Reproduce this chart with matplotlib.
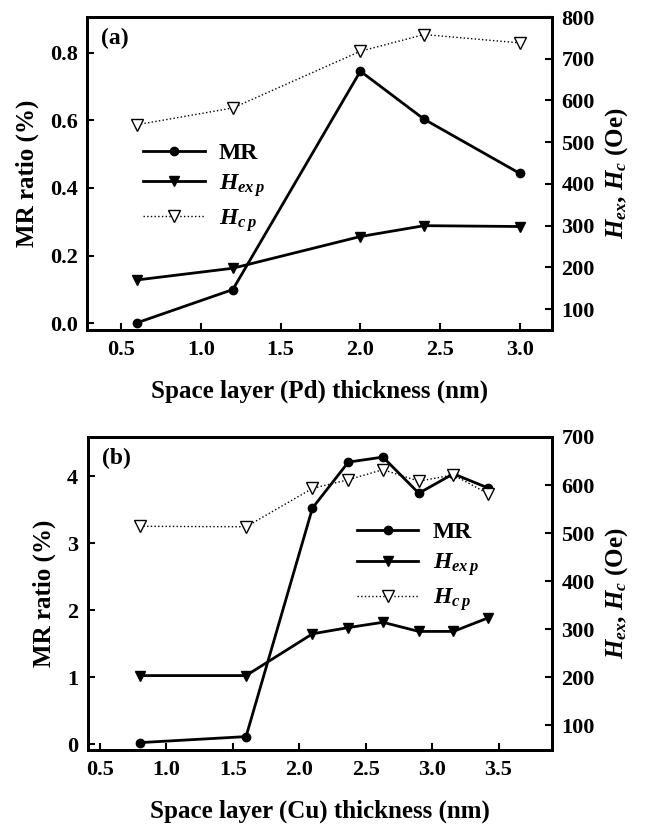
import numpy as np
import matplotlib
matplotlib.use('Agg')
import matplotlib.pyplot as plt

plt.rcParams['font.family'] = 'Liberation Serif'
plt.rcParams['font.weight'] = 'bold'
plt.rcParams['mathtext.fontset'] = 'custom'
plt.rcParams['mathtext.rm'] = 'Liberation Serif:bold'
plt.rcParams['mathtext.it'] = 'Liberation Serif:italic:bold'
plt.rcParams['mathtext.bf'] = 'Liberation Serif:bold'

# panel (a): Pd spacer
pd_thick = [0.6, 1.2, 2.0, 2.4, 3.0]
pd_mr = [0.002, 0.10, 0.745, 0.603, 0.443]
pd_hex = [170, 198, 274, 300, 298]
pd_hc = [542, 582, 718, 758, 738]

# panel (b): Cu spacer
cu_thick = [0.8, 1.6, 2.1, 2.37, 2.63, 2.9, 3.16, 3.42]
cu_mr = [0.025, 0.115, 3.53, 4.215, 4.29, 3.75, 4.04, 3.83]
cu_hex = [203, 203, 290, 303, 314, 295, 295, 323]
cu_hc = [514, 513, 593, 611, 632, 608, 621, 582]

fig = plt.figure(figsize=(6.56, 8.3), dpi=100)


def style(ax):
    for s in ax.spines.values():
        s.set_linewidth(2)
    ax.tick_params(direction='in', width=1.5, length=5, labelsize=16, pad=7)
    for lab in ax.get_xticklabels() + ax.get_yticklabels():
        lab.set_fontweight('bold')


def panel(rect, x, mr, hex_, hc, xlim, ylim, yticks, yfmt, rlim, rticks,
          xticks, xlabel, tag, leg_anchor):
    ax = fig.add_axes(rect)
    ax2 = ax.twinx()
    l1, = ax.plot(x, mr, '-', color='black', lw=2, marker='o', ms=6, label='MR')
    l2, = ax2.plot(x, hex_, '-', color='black', lw=2, marker='v', ms=7,
                   label=r'$H_{ex\,p}$')
    l3, = ax2.plot(x, hc, ':', color='black', lw=1.0, marker='v', ms=8,
                   mfc='white', mec='black', label=r'$H_{c\,p}$')
    ax.set_xlim(xlim)
    ax.set_ylim(ylim)
    ax.set_xticks(xticks)
    ax.set_xticklabels(['%.1f' % t for t in xticks])
    ax.set_yticks(yticks)
    ax.set_yticklabels([yfmt % t for t in yticks])
    ax2.set_ylim(rlim)
    ax2.set_yticks(rticks)
    ax.set_xlabel(xlabel, fontsize=18, fontweight='bold', labelpad=14)
    ax.set_ylabel('MR ratio (%)', fontsize=18, fontweight='bold', labelpad=8)
    ax2.set_ylabel(r'$H_{ex}$, $H_c$ (Oe)', fontsize=18, fontweight='bold',
                   labelpad=6)
    style(ax)
    style(ax2)
    ax.text(0.03, 0.965, tag, transform=ax.transAxes, fontsize=17,
            fontweight='bold', va='top', ha='left')
    ax.legend(handles=[l1, l2, l3], loc='upper left', bbox_to_anchor=leg_anchor,
              frameon=False, fontsize=17, handlelength=2.6, handletextpad=0.6,
              labelspacing=0.35, borderaxespad=0)
    return ax, ax2


panel([0.133, 0.6024, 0.708, 0.3771], pd_thick, pd_mr, pd_hex, pd_hc,
      (0.287, 3.20), (-0.0195, 0.905), [0.0, 0.2, 0.4, 0.6, 0.8], '%.1f',
      (50, 800), [100, 200, 300, 400, 500, 600, 700, 800],
      [0.5, 1.0, 1.5, 2.0, 2.5, 3.0], 'Space layer (Pd) thickness (nm)', '(a)',
      (0.10, 0.63))

panel([0.134, 0.0964, 0.707, 0.3771], cu_thick, cu_mr, cu_hex, cu_hc,
      (0.41, 3.90), (-0.085, 4.59), [0, 1, 2, 3, 4], '%d',
      (48, 700), [100, 200, 300, 400, 500, 600, 700],
      [0.5, 1.0, 1.5, 2.0, 2.5, 3.0, 3.5], 'Space layer (Cu) thickness (nm)', '(b)',
      (0.56, 0.76))

fig.savefig('out.png', dpi=100)
